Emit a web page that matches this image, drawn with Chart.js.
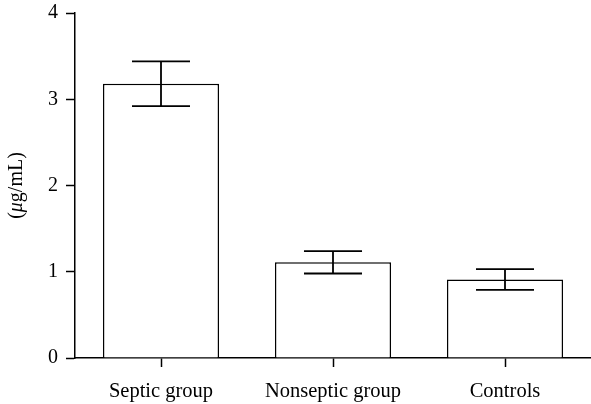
<!DOCTYPE html>
<html>
<head>
<meta charset="utf-8">
<script src="https://cdn.jsdelivr.net/npm/chart.js@4"></script>
<style>
  body { margin: 0; background: #fff; }
  canvas { display: block; }
</style>
</head>
<body>
<canvas id="barChart" width="591" height="404"></canvas>
<script>
// =============== D A T A ================================
const categories = ['Septic group', 'Nonseptic group', 'Controls'];
const means = [3.18, 1.11, 0.91];
const errors = [0.26, 0.13, 0.12];
const yTicks = [0, 1, 2, 3, 4];

const FONT = 'Liberation Serif, Times New Roman, serif';

// error bars with caps, drawn through the scales
const errorBars = {
  id: 'errorBars',
  afterDatasetsDraw(chart) {
    const ctx = chart.ctx;
    const x = chart.scales.x;
    const y = chart.scales.y;
    const meta = chart.getDatasetMeta(0);
    ctx.save();
    ctx.strokeStyle = '#000';
    ctx.lineWidth = 1.8;
    means.forEach((m, i) => {
      const bar = meta.data[i];
      const cx = x.getPixelForValue(i);
      const half = bar.width / 4;
      const top = y.getPixelForValue(m + errors[i]);
      const bot = y.getPixelForValue(m - errors[i]);
      ctx.beginPath();
      ctx.moveTo(cx, top); ctx.lineTo(cx, bot);
      ctx.moveTo(cx - half, top); ctx.lineTo(cx + half, top);
      ctx.moveTo(cx - half, bot); ctx.lineTo(cx + half, bot);
      ctx.stroke();
    });
    ctx.restore();
  }
};

// y title with italic mu
const yTitle = {
  id: 'yTitle',
  afterDraw(chart) {
    const ctx = chart.ctx;
    const y = chart.scales.y;
    const parts = [['(', 'normal'], ['\u03bc', 'italic'], ['g/mL)', 'normal']];
    ctx.save();
    ctx.fillStyle = '#000';
    ctx.textBaseline = 'middle';
    let total = 0;
    parts.forEach(p => { ctx.font = p[1] + ' 20px ' + FONT; total += ctx.measureText(p[0]).width; });
    ctx.translate(17, (y.top + y.bottom) / 2);
    ctx.rotate(-Math.PI / 2);
    let pos = -total / 2;
    parts.forEach(p => {
      ctx.font = p[1] + ' 20px ' + FONT;
      ctx.fillText(p[0], pos, 0);
      pos += ctx.measureText(p[0]).width;
    });
    ctx.restore();
  }
};

// =============== C H A R T ================================
const barCtx = document.getElementById('barChart');

new Chart(barCtx, {
  type: 'bar',
  data: {
    labels: categories,
    datasets: [{
      data: means,
      backgroundColor: '#fff',
      borderColor: '#000',
      borderWidth: 1.5,
      categoryPercentage: 1,
      barPercentage: 0.675
    }]
  },
  options: {
    responsive: false,
    animation: false,
    devicePixelRatio: 1,
    layout: { padding: { top: 13, right: 0, left: 0, bottom: 0 } },
    plugins: {
      legend: { display: false },
      tooltip: { enabled: false }
    },
    scales: {
      x: {
        afterFit: (s) => { s.height = 46; s.paddingLeft = 0; s.paddingRight = 0; },
        grid: {
          offset: false,
          drawOnChartArea: false,
          drawTicks: true,
          tickLength: 9,
          tickColor: '#000',
          tickWidth: 1.5
        },
        border: { display: true, color: '#000', width: 1.5 },
        ticks: {
          color: '#000',
          padding: 12,
          font: { family: FONT, size: 20.5 }
        }
      },
      y: {
        min: 0,
        max: 4,
        afterFit: (s) => { s.width = 75; s.paddingTop = 0; s.paddingBottom = 0; },
        afterBuildTicks: (s) => { s.ticks = yTicks.map(v => ({ value: v })); },
        grid: {
          drawOnChartArea: false,
          drawTicks: true,
          tickLength: 9,
          tickColor: '#000',
          tickWidth: 1.5
        },
        border: { display: true, color: '#000', width: 1.5 },
        ticks: {
          color: '#000',
          padding: 8,
          font: { family: FONT, size: 20 }
        }
      }
    }
  },
  plugins: [errorBars, yTitle]
});
</script>
</body>
</html>
